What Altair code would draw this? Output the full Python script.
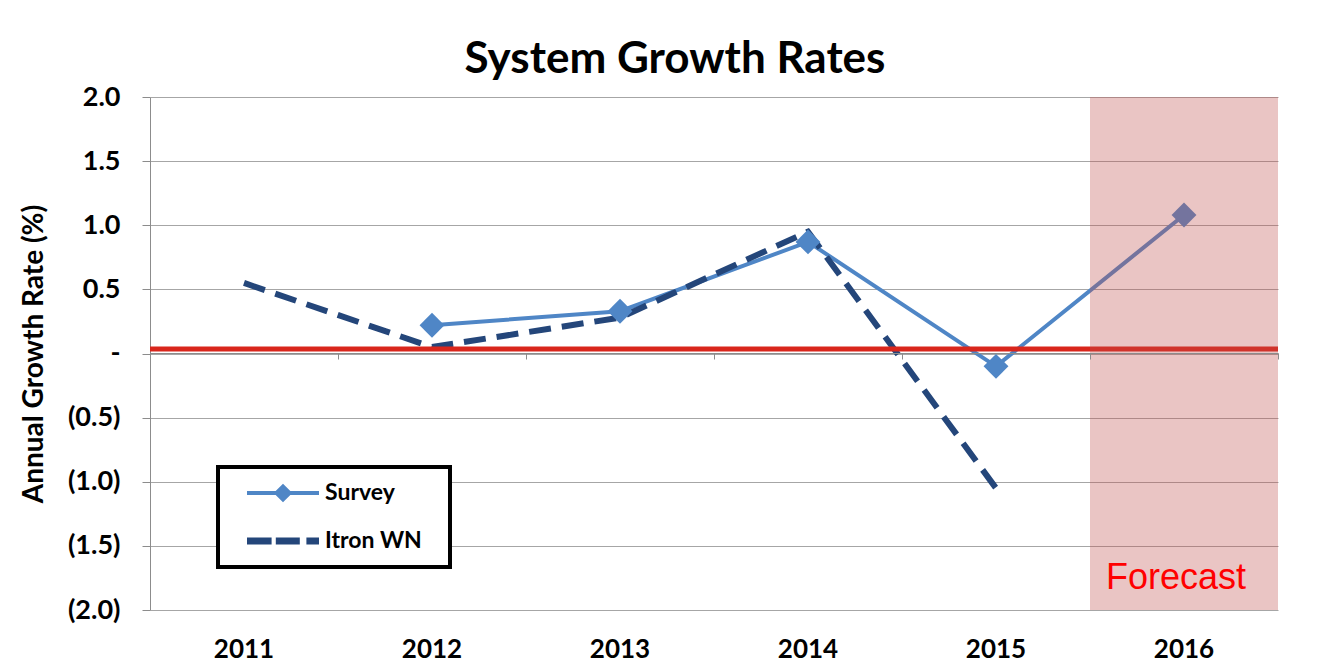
import altair as alt
import pandas as pd

years = ["2011", "2012", "2013", "2014", "2015", "2016"]
survey_years = ["2012", "2013", "2014", "2015", "2016"]
survey_values = [0.22, 0.33, 0.87, -0.10, 1.08]
itron_years = ["2011", "2012", "2013", "2014", "2015"]
itron_values = [0.55, 0.05, 0.28, 0.95, -1.05]
series_names = ["Survey", "Itron WN"]
series_colors = ["#4F86C6", "#24467A"]
reference_level = [0.035]
forecast_years = ["2016"]
forecast_label = ["Forecast"]
forecast_label_level = -1.75
y_ticks = [-2.0, -1.5, -1.0, -0.5, 0.0, 0.5, 1.0, 1.5, 2.0]

FONT = "Lato"

survey_df = pd.DataFrame({"year": survey_years, "value": survey_values, "series": "Survey"})
itron_df = pd.DataFrame({"year": itron_years, "value": itron_values, "series": "Itron WN"})
all_df = pd.concat([survey_df, itron_df], ignore_index=True)
ref_df = pd.DataFrame({"value": reference_level})
fc_df = pd.DataFrame({"year": forecast_years, "label": forecast_label})

x_scale = alt.Scale(type="band", domain=years, paddingInner=0, paddingOuter=0)
y_scale = alt.Scale(domain=[-2, 2], nice=False, zero=False)

label_expr = ("datum.value == 0 ? '-' : (datum.value < 0 ? '(' + format(-datum.value, '.1f') + ')' "
              ": format(datum.value, '.1f'))")

y_axis = alt.Axis(values=y_ticks, labelExpr=label_expr, grid=True, gridColor="#A6A6A6",
                  gridWidth=1, domainColor="#8C8C8C", tickColor="#8C8C8C", tickSize=8,
                  labelFont=FONT, labelFontSize=27, labelFontWeight="bold", labelColor="#000000",
                  labelPadding=22, title="Annual Growth Rate (%)", titleFont=FONT,
                  titleFontSize=28, titleFontWeight="bold", titleColor="#000000", titlePadding=19)

x_axis_labels = alt.Axis(domain=False, ticks=False, grid=False, labelAngle=0, labelFont=FONT,
                         labelFontSize=26, labelFontWeight="bold", labelColor="#000000",
                         labelPadding=26, title=None)
x_axis_zero = alt.Axis(orient="bottom", offset=-257, labels=False, domain=True, ticks=True,
                       tickBand="extent", tickSize=6, tickColor="#8C8C8C", domainColor="#8C8C8C",
                       grid=False, title=None)

survey_line = alt.Chart(survey_df).mark_line(color=series_colors[0], strokeWidth=4).encode(
    x=alt.X("year:O", scale=x_scale, axis=x_axis_labels),
    y=alt.Y("value:Q", scale=y_scale, axis=y_axis),
)
itron_line = alt.Chart(itron_df).mark_line(color=series_colors[1], strokeWidth=6,
                                           strokeDash=[22, 11]).encode(
    x=alt.X("year:O", scale=x_scale, axis=None),
    y=alt.Y("value:Q", scale=y_scale, axis=None),
)
survey_pts = alt.Chart(survey_df).mark_point(shape="diamond", filled=True, size=620, opacity=1,
                                             color=series_colors[0]).encode(
    x=alt.X("year:O", scale=x_scale, axis=None),
    y=alt.Y("value:Q", scale=y_scale, axis=None),
)
ref_rule = alt.Chart(ref_df).mark_rule(color="#D9261C", strokeWidth=5).encode(
    y=alt.Y("value:Q", scale=y_scale, axis=None),
)
forecast_rect = alt.Chart(fc_df).mark_rect(color="#C0504D", opacity=0.33).encode(
    x=alt.X("year:O", scale=x_scale, axis=x_axis_zero),
)
forecast_text = alt.Chart(fc_df).mark_text(font="Liberation Sans", fontSize=36, color="#FF0000",
                                           baseline="middle", dx=-8).encode(
    x=alt.X("year:O", scale=x_scale, axis=None),
    y=alt.Y(datum=forecast_label_level, scale=y_scale, axis=None),
    text="label:N",
)

# legend glyphs (units of 12 px, drawn to the right of the nominal 24 px symbol)
survey_path = ("M0.25,-0.17L6.25,-0.17L6.25,0.17L0.25,0.17Z "
               "M3.25,-0.78L4.03,0L3.25,0.78L2.47,0Z")
itron_path = ("M0.25,-0.3L2.3,-0.3L2.3,0.3L0.25,0.3Z "
              "M2.65,-0.3L4.65,-0.3L4.65,0.3L2.65,0.3Z "
              "M5.2,-0.3L6.25,-0.3L6.25,0.3L5.2,0.3Z")

legend_def = alt.Legend(title="\u00A0", orient="none", legendX=68, legendY=370,
                        titleOrient="right", titlePadding=14, titleFontSize=8,
                        titleColor="#FFFFFF")
legend_layer = alt.Chart(all_df).mark_point(filled=True, opacity=1).encode(
    x=alt.X("year:O", scale=x_scale, axis=None),
    y=alt.Y("value:Q", scale=y_scale, axis=None),
    color=alt.Color("series:N", scale=alt.Scale(domain=series_names, range=series_colors),
                    legend=legend_def),
    shape=alt.Shape("series:N", scale=alt.Scale(domain=series_names,
                                                range=[survey_path, itron_path]),
                    legend=legend_def),
).transform_filter("datum.value > 100")

chart = alt.layer(
    survey_line, itron_line, survey_pts, ref_rule, forecast_rect, forecast_text, legend_layer
).resolve_axis(x="independent", y="independent").properties(
    width=1128,
    height=513,
    background="#FFFFFF",
    title=alt.TitleParams("System Growth Rates", font=FONT, fontSize=44, fontWeight="bold",
                          color="#000000", anchor="middle", dx=-39, offset=1),
    autosize=alt.AutoSizeParams(type="none"),
    padding={"left": 150, "top": 97, "right": 49, "bottom": 61},
).configure_view(stroke=None).configure_legend(
    labelFont=FONT, labelFontSize=23, labelFontWeight="bold", labelColor="#000000",
    symbolSize=576, symbolStrokeWidth=0, symbolOpacity=1, strokeColor="#000000",
    strokeWidth=4, padding=14, rowPadding=24, labelOffset=69, fillColor="#FFFFFF",
)

chart.save("out.html", embed_options={"renderer": "svg", "actions": False})
